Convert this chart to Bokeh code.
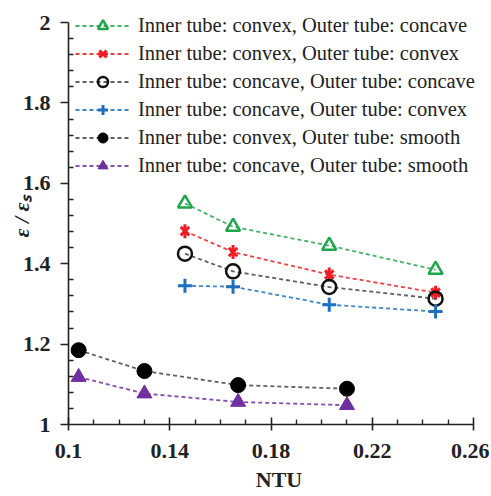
import math
from bokeh.plotting import figure
from bokeh.models import (Legend, LegendItem, FixedTicker,
                          CustomJSTickFormatter, Range1d)
from bokeh.embed import file_html
from bokeh.resources import INLINE

# ---- data ----
ntu_grooved = [0.146, 0.165, 0.203, 0.245]
convex_concave = [1.550, 1.492, 1.445, 1.385]
convex_convex = [1.481, 1.429, 1.373, 1.328]
concave_concave = [1.425, 1.381, 1.342, 1.313]
concave_convex = [1.345, 1.343, 1.298, 1.281]

ntu_smooth = [0.104, 0.130, 0.167, 0.210]
convex_smooth = [1.185, 1.133, 1.098, 1.089]
concave_smooth = [1.118, 1.077, 1.056, 1.048]

x_ticks = [0.10, 0.14, 0.18, 0.22, 0.26]
x_minor = [0.11, 0.12, 0.13, 0.15, 0.16, 0.17, 0.19, 0.20, 0.21, 0.23, 0.24, 0.25]
y_ticks = [1.0, 1.2, 1.4, 1.6, 1.8, 2.0]
y_minor = [1.04, 1.08, 1.12, 1.16, 1.24, 1.28, 1.32, 1.36, 1.44, 1.48, 1.52, 1.56,
           1.64, 1.68, 1.72, 1.76, 1.84, 1.88, 1.92, 1.96]

labels = [
    "Inner tube: convex, Outer tube: concave",
    "Inner tube: convex, Outer tube: convex",
    "Inner tube: concave, Outer tube: concave",
    "Inner tube: concave, Outer tube: convex",
    "Inner tube: convex, Outer tube: smooth",
    "Inner tube: concave, Outer tube: smooth",
]

FONT = "Liberation Serif"

p = figure(frame_width=421, frame_height=416,
           min_border_left=68, min_border_top=8, min_border_right=0, min_border_bottom=66,
           x_range=Range1d(0.1, 0.2663), y_range=Range1d(1.0, 2.035),
           output_backend="svg", toolbar_location=None)
p.xgrid.grid_line_color = None
p.ygrid.grid_line_color = None
p.outline_line_color = None
p.background_fill_color = "white"
p.border_fill_color = "white"

fmt = CustomJSTickFormatter(code="return String(Math.round(tick*100)/100);")
for ax, ticks, minor in ((p.xaxis[0], x_ticks, x_minor), (p.yaxis[0], y_ticks, y_minor)):
    ax.ticker = FixedTicker(ticks=ticks, minor_ticks=minor)
    ax.formatter = fmt
    ax.axis_line_color = "#222222"
    ax.axis_line_width = 1.6
    ax.major_tick_line_color = "#222222"
    ax.major_tick_line_width = 1.6
    ax.minor_tick_line_color = "#222222"
    ax.minor_tick_line_width = 1.4
    ax.minor_tick_in = 5
    ax.minor_tick_out = 0
    ax.major_label_text_font = FONT
    ax.major_label_text_font_style = "bold"
    ax.major_label_text_font_size = "22px"
    ax.major_label_text_color = "#222222"
    ax.axis_label_text_font = FONT
    ax.axis_label_text_font_size = "22px"
    ax.axis_label_text_color = "#222222"

p.yaxis.bounds = (1.0, 2.0)
p.xaxis.bounds = (0.1, 0.26)

p.xaxis.major_tick_in = 7
p.xaxis.major_tick_out = 6
p.xaxis.major_label_standoff = 13
p.xaxis.axis_label = "NTU"
p.xaxis.axis_label_text_font_style = "bold"
p.xaxis.axis_label_standoff = 6

p.yaxis.major_tick_in = 0
p.yaxis.major_tick_out = 8
p.yaxis.major_label_standoff = 10
p.yaxis.axis_label = "ε / εₛ"
p.yaxis.axis_label_text_font_style = "bold italic"
p.yaxis.axis_label_standoff = -14

DASH = "4 3"
RED = "#ee1c24"
series = [
    (ntu_grooved, convex_concave, "#1fa64b", [dict(marker="triangle", fill_color=None, size=14, line_width=2.5)]),
    (ntu_grooved, convex_convex, RED, [dict(marker="x", size=12, line_width=3),
                                       dict(marker="dash", angle=math.pi / 2, size=14, line_width=3)]),
    (ntu_grooved, concave_concave, "#111111", [dict(marker="circle", fill_color=None, size=14, line_width=2.5)]),
    (ntu_grooved, concave_convex, "#1f6fc0", [dict(marker="cross", size=14, line_width=3)]),
    (ntu_smooth, convex_smooth, "#000000", [dict(marker="circle", size=15, line_width=1)]),
    (ntu_smooth, concave_smooth, "#7030a0", [dict(marker="triangle", size=15, line_width=1)]),
]

items = []
for (xs, ys, col, mks), lab in zip(series, labels):
    lcol = "#444444" if col in ("#000000", "#111111") else col
    rs = [p.line(xs, ys, line_color=lcol, line_width=1.8, line_dash=DASH, line_alpha=0.85)]
    for mk in mks:
        kw = dict(mk)
        if "fill_color" not in kw:
            kw["fill_color"] = col
        rs.append(p.scatter(xs, ys, line_color=col, **kw))
    items.append(LegendItem(label=lab, renderers=rs))

legend = Legend(items=items, location=(7, 246), orientation="vertical",
                glyph_width=55, glyph_height=25, label_height=25, spacing=3,
                label_standoff=8, padding=0, margin=0,
                border_line_color=None, background_fill_alpha=0,
                label_text_font=FONT, label_text_font_size="20.5px",
                label_text_color="#222222")
p.add_layout(legend, "center")

open("out.html", "w").write(file_html(p, INLINE))
